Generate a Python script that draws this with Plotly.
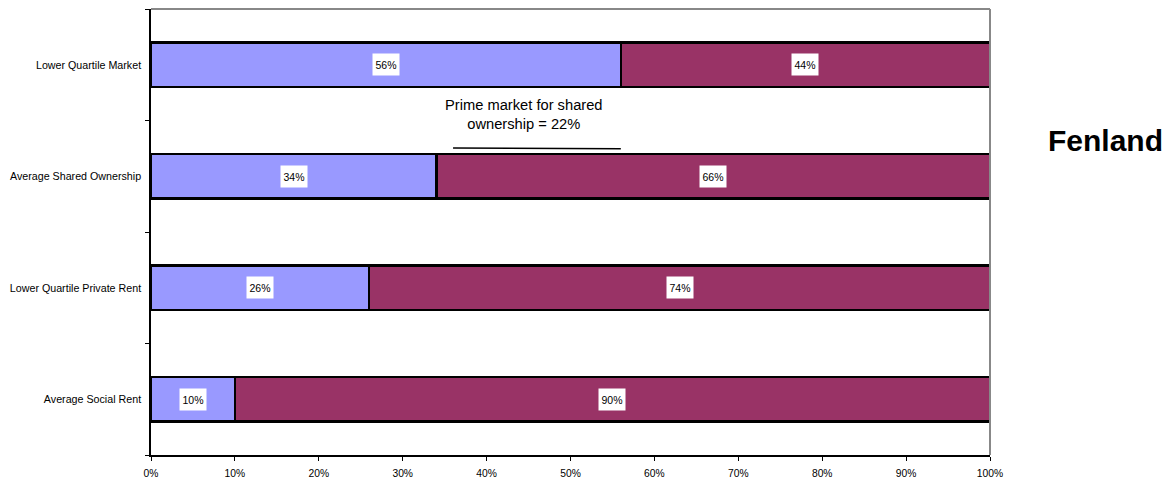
import plotly.graph_objects as go

# Affordability split per housing tenure (share of households)
categories = ["Average Social Rent", "Lower Quartile Private Rent",
              "Average Shared Ownership", "Lower Quartile Market"]
can_afford = [0.10, 0.26, 0.34, 0.56]
cannot_afford = [0.90, 0.74, 0.66, 0.44]

FONT = "Liberation Sans, Arial, sans-serif"

fig = go.Figure()
fig.add_trace(go.Bar(y=categories, x=can_afford, orientation="h",
                     marker=dict(color="#9999FF", line=dict(color="black", width=2.5)),
                     width=0.395, hoverinfo="skip"))
fig.add_trace(go.Bar(y=categories, x=cannot_afford, orientation="h",
                     marker=dict(color="#993366", line=dict(color="black", width=2.5)),
                     width=0.395, hoverinfo="skip"))

annotations = []
for cat, a, b in zip(categories, can_afford, cannot_afford):
    for x0, v in ((0, a), (a, b)):
        annotations.append(dict(x=x0 + v / 2, y=cat, xref="x", yref="y",
                                text=f"{round(v * 100)}%", showarrow=False,
                                bgcolor="white", borderpad=1, width=24, height=19,
                                font=dict(family=FONT, size=10.5, color="black")))

annotations.append(dict(x=0.445, y=2.558, xref="x", yref="y",
                        text="Prime market for shared<br>ownership = 22%",
                        showarrow=False, align="center",
                        font=dict(family=FONT, size=14.7, color="black")))
annotations.append(dict(x=(1105 - 151) / 839, y=0.706, xref="paper", yref="paper",
                        xanchor="center", yanchor="middle",
                        text="<b>Fenland</b>", showarrow=False,
                        font=dict(family=FONT, size=30, color="black")))

shapes = [
    dict(type="line", xref="x", yref="y", x0=0.36, x1=0.56, y0=2.253, y1=2.247,
         line=dict(color="black", width=1.5)),
    dict(type="line", xref="paper", yref="paper", x0=0, x1=1, y0=1, y1=1,
         line=dict(color="#888888", width=2)),
    dict(type="line", xref="paper", yref="paper", x0=1, x1=1, y0=0, y1=1,
         line=dict(color="#888888", width=2)),
]

fig.update_layout(
    barmode="stack", showlegend=False, width=1167, height=482,
    margin=dict(l=151, r=177, t=9, b=27),
    plot_bgcolor="white", paper_bgcolor="white",
    annotations=annotations, shapes=shapes,
    font=dict(family=FONT, size=10, color="black"),
)
fig.update_xaxes(range=[0, 1], tickformat=".0%", dtick=0.1, showgrid=False,
                 zeroline=False, showline=True, linecolor="black", linewidth=1.5,
                 ticks="outside", ticklen=4, tickcolor="black",
                 ticklabelstandoff=4, automargin=False,
                 tickfont=dict(family=FONT, size=10.3))
fig.update_yaxes(type="category", categoryorder="array", categoryarray=categories,
                 range=[-0.5, 3.5], tickson="boundaries", showgrid=False,
                 showline=True, linecolor="black", linewidth=1.5,
                 ticks="outside", ticklen=4, tickcolor="black",
                 ticklabelstandoff=6, automargin=False,
                 tickfont=dict(family=FONT, size=10.7))

fig.write_html("out.html")
